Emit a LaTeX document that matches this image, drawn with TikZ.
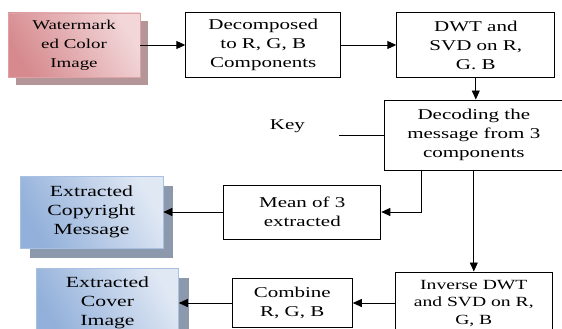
\documentclass[tikz,border=0pt]{standalone}
\usepackage{fontspec}
\setmainfont{Liberation Serif}[FakeStretch=1.4]
\usetikzlibrary{positioning,shadows,arrows.meta}

\definecolor{wmdark}{RGB}{214,138,142}
\definecolor{wmlight}{RGB}{242,214,216}
\definecolor{wmshadow}{RGB}{180,150,152}
\definecolor{cpdark}{RGB}{146,176,218}
\definecolor{cplight}{RGB}{224,232,244}
\definecolor{cpshadow}{RGB}{140,153,172}

\begin{document}
\begin{tikzpicture}[x=1pt,y=1pt,>={Triangle[length=9pt,width=8pt]},line width=0.9pt,
    stage/.style={rectangle,draw,line width=1pt,align=center,inner sep=2pt,
        minimum width=157pt,minimum height=64pt,font=\fontsize{15}{19}\selectfont},
    redbox/.style={rectangle,draw=wmdark!80,line width=0.6pt,align=center,
        left color=wmdark,right color=wmlight,shading angle=120,
        general shadow={fill=wmshadow,shadow xshift=8pt,shadow yshift=-8pt},
        minimum width=132pt,minimum height=64pt,font=\fontsize{13.5}{19}\selectfont},
    bluebox/.style={rectangle,draw=cpdark!80,line width=0.6pt,align=center,
        left color=cpdark,right color=cplight,shading angle=120,
        general shadow={fill=cpshadow,shadow xshift=10pt,shadow yshift=-10pt},
        minimum width=143pt,minimum height=72pt,font=\fontsize{15.5}{19}\selectfont}]

                \clip (0,0) rectangle (562,-329);
                \useasboundingbox (0,0) rectangle (562,-329);

                \node[redbox] (wm) at (74,-45) {Watermark\\ed Color\\Image};
                \node[stage, minimum width=155pt] (dec) [right = 45pt of wm]{Decomposed\\to R, G, B\\Components};
                \node[stage, minimum width=158pt] (dwt) [right = 55pt of dec]{DWT and\\SVD on R,\\G. B};

                \node[stage, minimum width=178pt, minimum height=70pt] (decod) [below = 22pt of dwt, xshift = -2pt]{Decoding the\\message from 3\\components};
                \coordinate[left = 45pt of decod.west] (keyend);
                \node[inner sep=0pt, font=\fontsize{15}{19}\selectfont] (key) [left = 34pt of keyend, yshift = 9pt]{Key};

                \node[stage, minimum height=54pt] (mean) [below left = 14pt and 3pt of decod.south west]{Mean of 3\\extracted};
                \node[bluebox] (copy) [left = 60pt of mean]{Extracted\\Copyright\\Message};

                \node[stage, minimum height=62pt, font=\fontsize{14}{17.5}\selectfont] (inv) [below = 101pt of decod]{Inverse DWT\\and SVD on R,\\G, B};
                \node[stage, minimum width=120pt, minimum height=49pt] (comb) [left = 42pt of inv]{Combine\\R, G, B};
                \node[bluebox, minimum width=142pt, minimum height=70pt] (cover) [left = 53pt of comb]{Extracted\\Cover\\Image};

                % top row
                \draw[->] (wm) to (dec);
                \draw[->] (dec) to (dwt);
                \draw[->] (dwt.south) to (dwt.south |- decod.north);

                % key and decoding
                \draw[-] (keyend) to (decod.west);
                \draw[->] ([xshift = -52pt]decod.south) |- (mean.east);
                \draw[->] (mean) to (copy);

                % bottom row
                \draw[->] (decod.south) to (inv.north);
                \draw[->] (inv) to (comb);
                \draw[->] (comb) to (cover);
\end{tikzpicture}
\end{document}
